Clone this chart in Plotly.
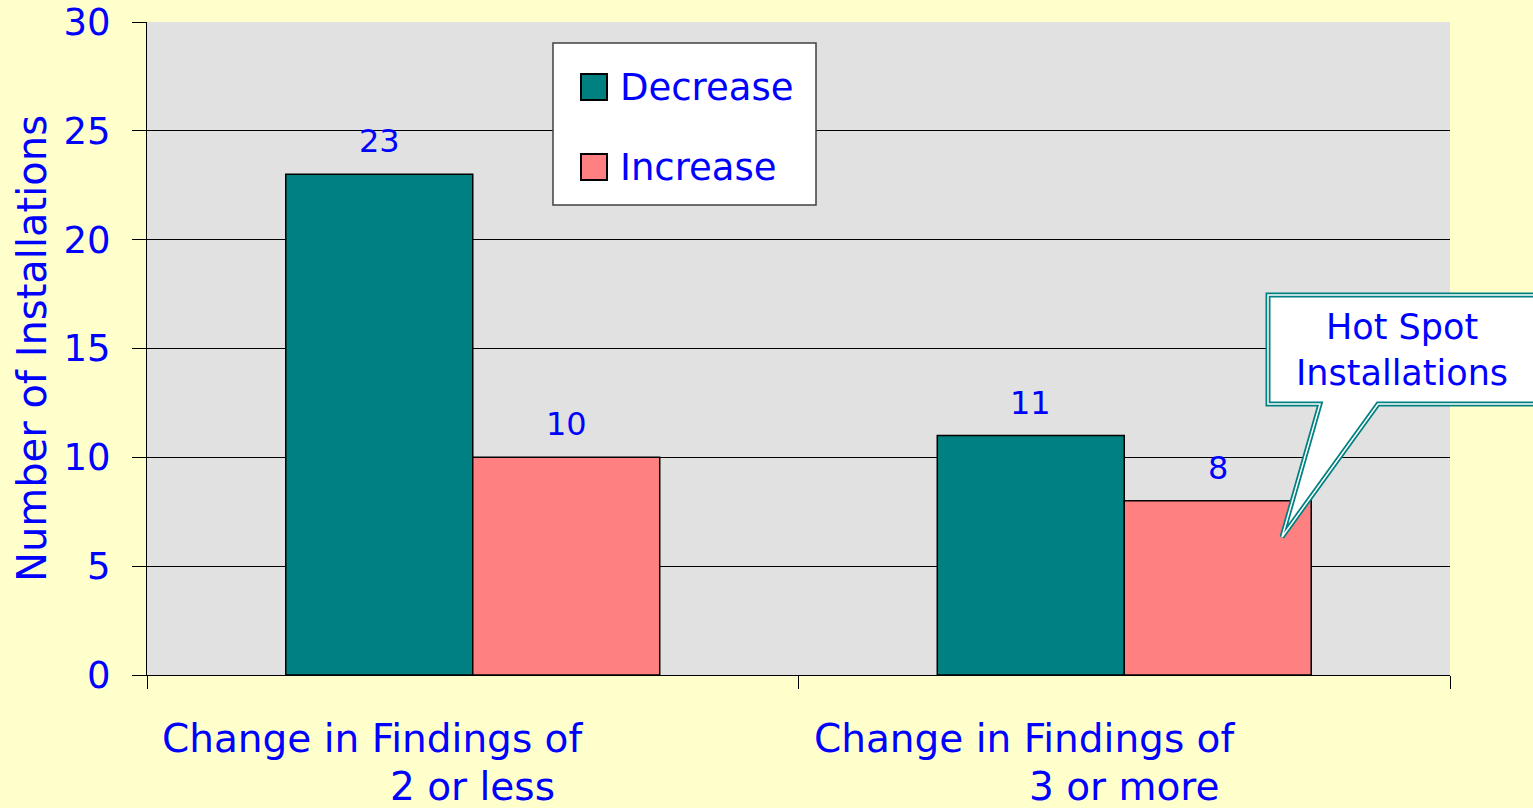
import plotly.graph_objects as go

categories = ["Change in Findings of 2 or less", "Change in Findings of 3 or more"]
cat_line1 = ["Change in Findings of", "Change in Findings of"]
cat_line2 = ["2 or less", "3 or more"]
series_names = ["Decrease", "Increase"]
series_colors = ["#008080", "#FF8080"]
decrease = [23, 11]
increase = [10, 8]
y_ticks = [0, 5, 10, 15, 20, 25, 30]

FONT = "Tahoma, DejaVu Sans, sans-serif"
BLUE = "#0000FF"

W, H = 1533, 808
L, R, T, B = 147, 83, 22, 133
PW, PH = W - L - R, H - T - B

def px(x):
    return (x - L) / PW

def py(y):
    return (H - B - y) / PH

fig = go.Figure()
for name, vals, col in zip(series_names, (decrease, increase), series_colors):
    fig.add_trace(go.Bar(name=name, x=categories, y=vals, showlegend=False,
                         marker=dict(color=col, line=dict(color="black", width=1.5))))

annotations = []
shapes = []
# data labels
for vals, off in ((decrease, -0.5), (increase, 0.5)):
    for i, v in enumerate(vals):
        annotations.append(dict(x=i, y=v, xref="x", yref="y", text=str(v), showarrow=False,
                                xshift=off * 187, yshift=33,
                                font=dict(family=FONT, size=32, color=BLUE)))
# category labels
for i in range(len(categories)):
    annotations.append(dict(x=i, y=0, xref="x", yref="y", text=cat_line1[i], showarrow=False,
                            xshift=-100, yshift=-63, font=dict(family=FONT, size=39, color=BLUE)))
    annotations.append(dict(x=i, y=0, xref="x", yref="y", text=cat_line2[i], showarrow=False,
                            xshift=0, yshift=-111, font=dict(family=FONT, size=39, color=BLUE)))

# legend box
shapes.append(dict(type="rect", xref="paper", yref="paper", x0=px(553), x1=px(816), y0=py(205), y1=py(43),
                   fillcolor="white", line=dict(color="#404040", width=1.5), layer="above"))
for k, (name, col) in enumerate(zip(series_names, series_colors)):
    cy = 87 + 80 * k
    shapes.append(dict(type="rect", xref="paper", yref="paper", x0=px(581), x1=px(607),
                       y0=py(cy + 13), y1=py(cy - 13), fillcolor=col,
                       line=dict(color="black", width=2), layer="above"))
    annotations.append(dict(x=px(618), y=py(cy), xref="paper", yref="paper", text=name,
                            showarrow=False, xanchor="left", yanchor="middle",
                            font=dict(family=FONT, size=37, color=BLUE)))

# callout
pts = [(1268, 295), (1545, 295), (1545, 404), (1378, 404), (1282, 537), (1320, 404), (1268, 404)]
path = "M " + " L ".join(f"{px(x):.5f},{py(y):.5f}" for x, y in pts) + " Z"
shapes.append(dict(type="path", path=path, xref="paper", yref="paper", fillcolor="white",
                   line=dict(color="#008080", width=5), layer="above"))
shapes.append(dict(type="path", path=path, xref="paper", yref="paper", fillcolor="rgba(0,0,0,0)",
                   line=dict(color="white", width=1.5), layer="above"))
annotations.append(dict(x=px(1402), y=py(350), xref="paper", yref="paper",
                        xanchor="center", yanchor="middle",
                        text="Hot Spot<br>Installations", showarrow=False,
                        font=dict(family=FONT, size=35, color=BLUE)))

fig.update_layout(
    width=W, height=H,
    margin=dict(l=L, r=R, t=T, b=B, pad=0),
    paper_bgcolor="#FFFFCC",
    plot_bgcolor="#E1E1E1",
    barmode="group",
    bargap=0.426,
    bargroupgap=0,
    font=dict(family=FONT, color=BLUE),
    showlegend=False,
    annotations=annotations,
    shapes=shapes,
    xaxis=dict(showticklabels=False, ticks="outside", tickson="boundaries", ticklen=13,
               tickcolor="black", showline=True, linecolor="black", linewidth=1,
               showgrid=False, zeroline=False, automargin=False),
    yaxis=dict(range=[0, 30], tickvals=y_ticks, ticks="outside", ticklen=14, tickcolor="black",
               showline=True, linecolor="black", linewidth=1, automargin=False,
               ticklabelstandoff=14,
               showgrid=True, gridcolor="black", gridwidth=1, zeroline=False,
               tickfont=dict(family=FONT, size=37, color=BLUE),
               title=dict(text="Number of Installations", standoff=4,
                          font=dict(family=FONT, size=40, color=BLUE))),
)

fig.write_html("out.html", config={"displayModeBar": False})
with open("out.html", "r", encoding="utf-8") as f:
    html = f.read()
html = html.replace("<body>", '<body style="margin:0;padding:0;overflow:hidden">', 1)
html = html.replace("<head>", "<head><style>html,body{margin:0;padding:0;}</style>", 1)
with open("out.html", "w", encoding="utf-8") as f:
    f.write(html)
